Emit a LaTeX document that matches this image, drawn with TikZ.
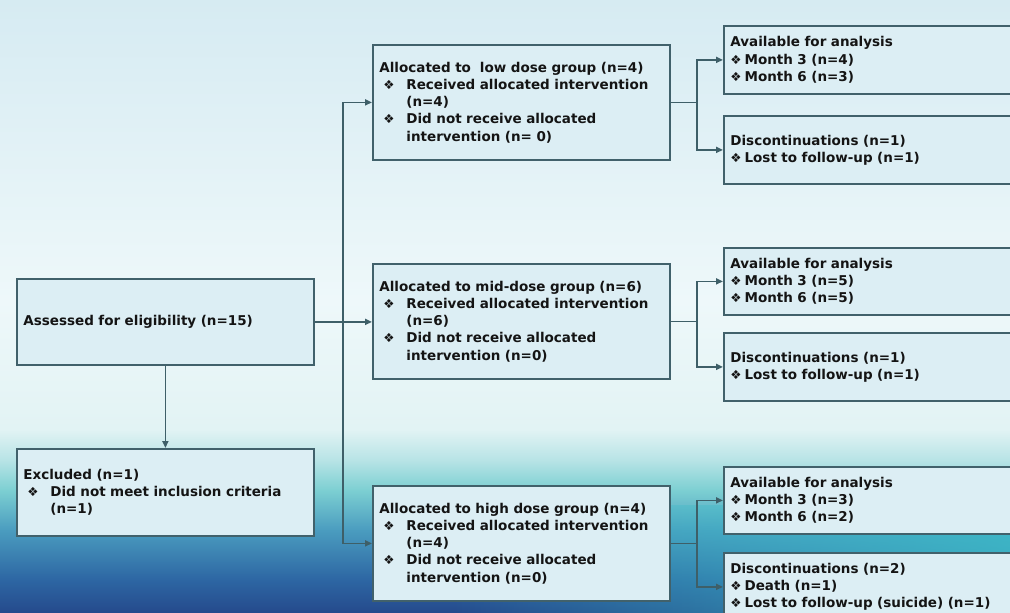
\documentclass[tikz,border=0pt]{standalone}
\usepackage{fontspec}
\setmainfont{DejaVu Sans}
\newfontfamily\bulfont{DejaVu Sans}
\usetikzlibrary{arrows.meta,fadings,calc}
\definecolor{boxfill}{HTML}{DCEEF4}
\definecolor{boxline}{HTML}{41616B}
\definecolor{connc}{HTML}{3E5F68}
\definecolor{txt}{HTML}{141414}
\definecolor{bgA}{HTML}{254A8C}
\definecolor{bgB}{HTML}{2D66A3}
\definecolor{bgC}{HTML}{4A9CBF}
\definecolor{bgD}{HTML}{7CCFD2}
\definecolor{bgE}{HTML}{B8E4E6}
\definecolor{bgF}{HTML}{E2F3F4}
\definecolor{bgG}{HTML}{EEF8FA}
\definecolor{bgH}{HTML}{D6EBF2}
\definecolor{bgteal}{HTML}{3CBCC8}
\pgfdeclareverticalshading{bgshade}{100bp}{color(0bp)=(bgA); color(25bp)=(bgA); color(27.7bp)=(bgB); color(31.75bp)=(bgC); color(35bp)=(bgD); color(37.5bp)=(bgE); color(40bp)=(bgF); color(50.5bp)=(bgG); color(75bp)=(bgH); color(100bp)=(bgH)}
\tikzfading[name=fromright, left color=transparent!100, right color=transparent!0]
\newcommand\mybul{\makebox[27pt][l]{\hspace{4pt}{\bulfont\fontsize{12.5}{12}\selectfont ❖}}}
\newcommand\myind{\hspace*{27pt}}
\newcommand\rbul{{\bulfont\fontsize{12.5}{12}\selectfont ❖}\hspace{3pt}}
\begin{document}
\begin{tikzpicture}[x=1pt,y=-1pt,
  box/.style={draw=boxline, line width=1.8pt, fill=boxfill, anchor=north west,
    inner xsep=6.5pt, inner ysep=0pt, align=left, text=txt,
    font=\fontsize{13.5}{17.2}\selectfont\bfseries},
  lbox/.style={box, text width=284pt, minimum height=115pt},
  rbox/.style={box, text width=290pt, minimum height=68pt},
  conn/.style={draw=connc, line width=1.7pt},
  arr/.style={conn, -{Triangle[length=7pt,width=6pt]}}]
\useasboundingbox (0,0) rectangle (1010,613);
\clip (0,0) rectangle (1010,613);
\shade[shading=bgshade] (0,0) rectangle (1010,613);
\fill[bgteal, path fading=fromright, fill opacity=0.8] (450,505) rectangle (1010,613);

\node[box, text width=284pt, minimum height=86pt] (assess) at (16,278) {Assessed for eligibility (n=15)};
\node[box, text width=284pt, minimum height=87pt] (excl) at (16,448) {Excluded (n=1)\\\mybul Did not meet inclusion criteria\\\myind (n=1)};

\node[lbox] (low) at (372,44) {Allocated to~ low dose group (n=4)\\\mybul Received allocated intervention\\\myind (n=4)\\\mybul Did not receive allocated\\\myind intervention (n= 0)};
\node[lbox] (mid) at (372,263) {Allocated to mid-dose group (n=6)\\\mybul Received allocated intervention\\\myind (n=6)\\\mybul Did not receive allocated\\\myind intervention (n=0)};
\node[lbox] (high) at (372,485) {Allocated to high dose group (n=4)\\\mybul Received allocated intervention\\\myind (n=4)\\\mybul Did not receive allocated\\\myind intervention (n=0)};

\node[rbox] (lowA) at (723,25) {Available for analysis\\\rbul Month 3 (n=4)\\\rbul Month 6 (n=3)};
\node[rbox] (lowD) at (723,115) {Discontinuations (n=1)\\\rbul Lost to follow-up (n=1)};
\node[rbox, minimum height=67pt] (midA) at (723,247) {Available for analysis\\\rbul Month 3 (n=5)\\\rbul Month 6 (n=5)};
\node[rbox] (midD) at (723,332) {Discontinuations (n=1)\\\rbul Lost to follow-up (n=1)};
\node[rbox, minimum height=67pt] (highA) at (723,466) {Available for analysis\\\rbul Month 3 (n=3)\\\rbul Month 6 (n=2)};
\node[rbox] (highD) at (723,552) {Discontinuations (n=2)\\\rbul Death (n=1)\\\rbul Lost to follow-up (suicide) (n=1)};

\draw[arr] (assess.south) -- (excl.north);
\coordinate (tk) at (343,0);
\draw[arr] (assess.east) -- (assess.east -| mid.west);
\draw[arr] (assess.east -| tk) |- (low.west);
\draw[arr] (assess.east -| tk) |- (high.west);

\coordinate (jr) at (697,0);
\draw[conn] (low.east) -- (low.east -| jr);
\draw[arr] (low.east -| jr) |- (lowA.west);
\draw[arr] (low.east -| jr) |- (lowD.west);
\draw[conn] (mid.east) -- (mid.east -| jr);
\draw[arr] (mid.east -| jr) |- (midA.west);
\draw[arr] (mid.east -| jr) |- (midD.west);
\draw[conn] (high.east) -- (high.east -| jr);
\draw[arr] (high.east -| jr) |- (highA.west);
\draw[arr] (high.east -| jr) |- (highD.west);
\end{tikzpicture}
\end{document}
